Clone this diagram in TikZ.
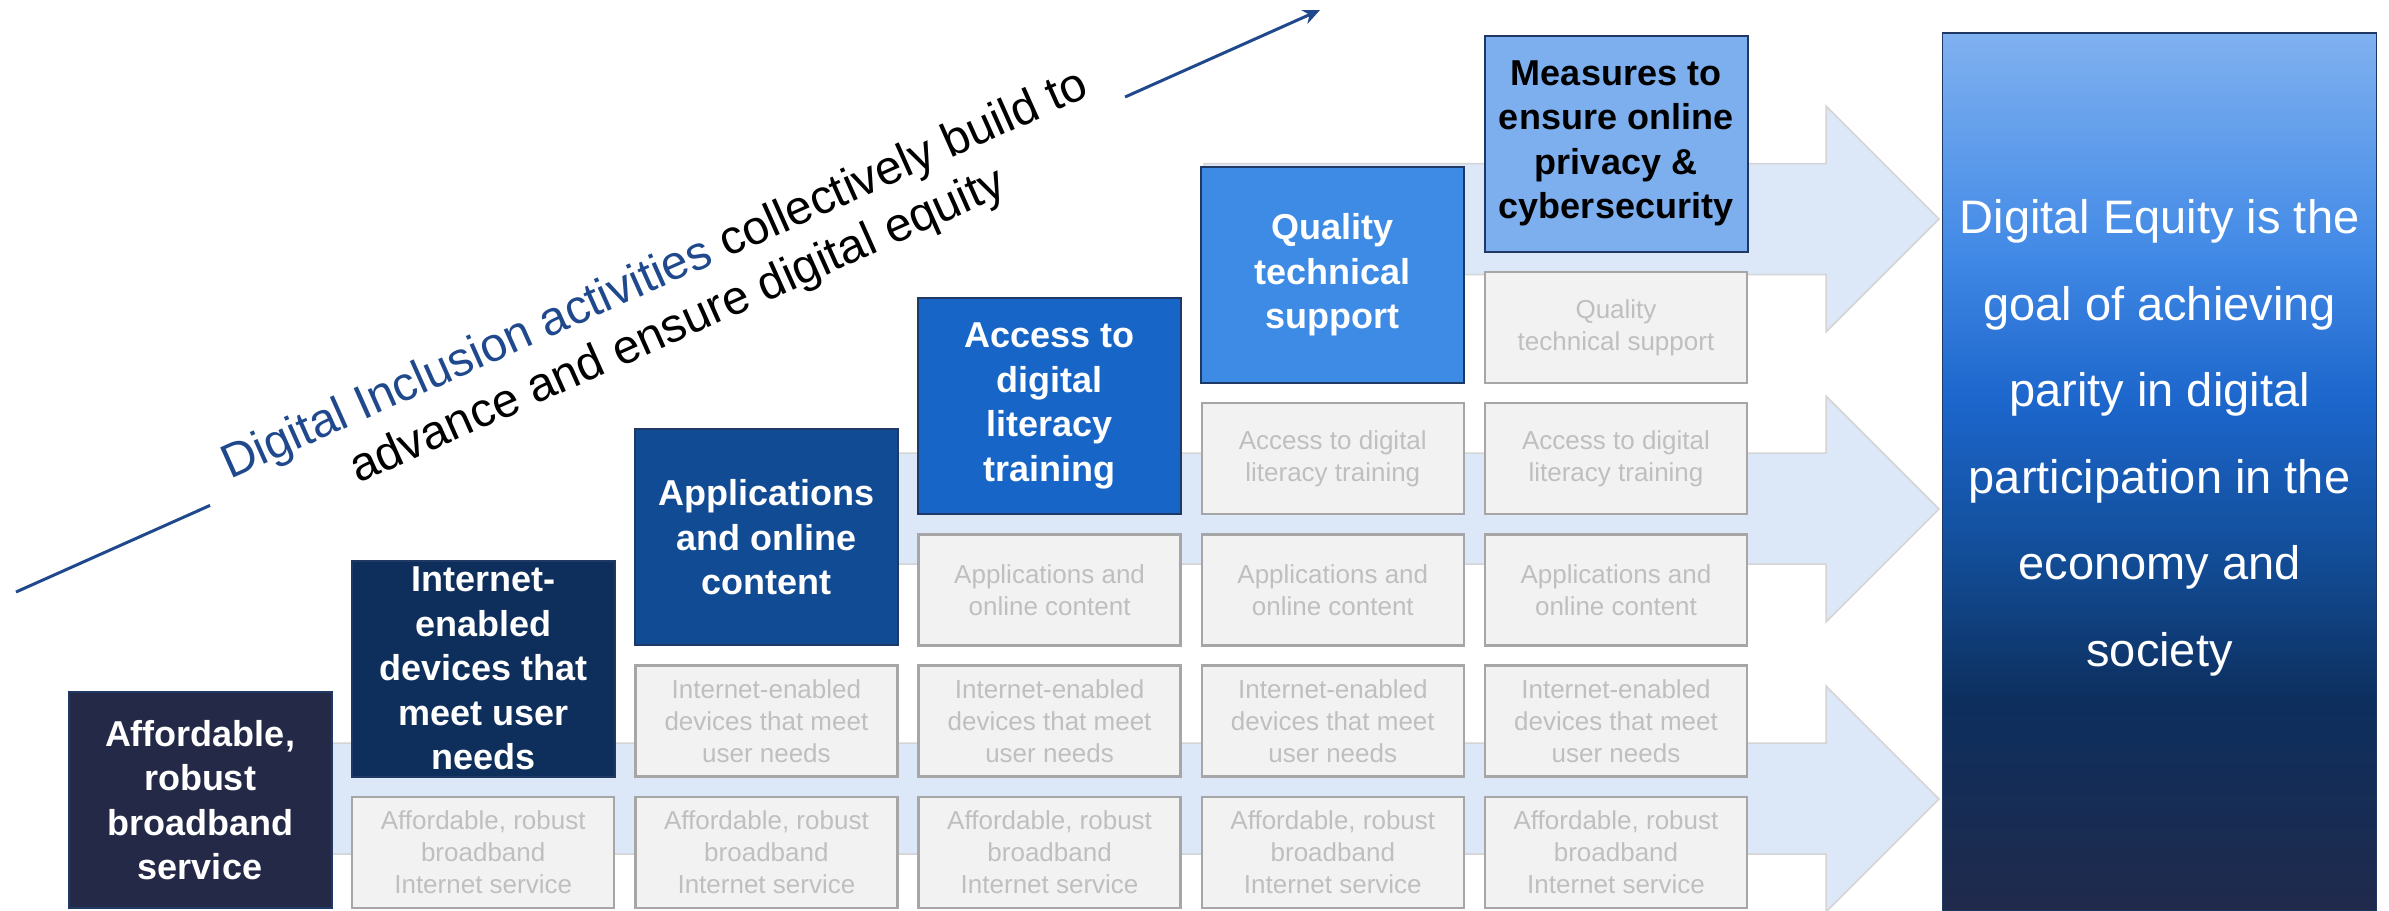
\documentclass[tikz,border=0pt]{standalone}
\usepackage[table]{xcolor}
\usepackage{fontspec}
\setmainfont{Liberation Sans}
\usepackage{tikz}
\usetikzlibrary{arrows.meta,calc}

\definecolor{navy0}{RGB}{36,41,72}
\definecolor{navy1}{RGB}{14,46,92}
\definecolor{blue2}{RGB}{17,75,148}
\definecolor{blue3}{RGB}{24,101,200}
\definecolor{blue4}{RGB}{62,139,230}
\definecolor{blue5}{RGB}{125,175,238}
\definecolor{edgeblue}{RGB}{31,56,100}
\definecolor{lineblue}{RGB}{31,73,140}
\definecolor{arrowfill}{RGB}{220,232,248}
\definecolor{arrowedge}{RGB}{212,212,212}
\definecolor{grayfill}{RGB}{242,242,242}
\definecolor{grayedge}{RGB}{166,166,166}
\definecolor{graytext}{RGB}{191,191,191}
\definecolor{g0}{RGB}{128,177,240}
\definecolor{g1}{RGB}{66,138,230}
\definecolor{g2}{RGB}{28,102,204}
\definecolor{g3}{RGB}{18,76,150}
\definecolor{g4}{RGB}{13,47,94}
\definecolor{g5}{RGB}{32,42,75}
\pgfdeclareverticalshading{goalshade}{100bp}{color(0bp)=(g5); color(25bp)=(g5); color(37bp)=(g4); color(45bp)=(g3); color(54bp)=(g2); color(62.6bp)=(g1); color(75bp)=(g0); color(100bp)=(g0)}

\begin{document}
\begin{tikzpicture}[x=1pt,y=-1pt,
	cbox/.style={draw=edgeblue, line width=2pt, minimum width=263pt, minimum height=216pt, inner sep=0pt, align=center, text=white, font=\fontsize{36}{44.5}\selectfont\bfseries},
	gbox/.style={draw=grayedge, fill=grayfill, line width=2.5pt, minimum width=262pt, minimum height=111pt, inner sep=0pt, align=center, text=graytext, font=\fontsize{26}{32}\selectfont},
	bigarrow/.style={fill=arrowfill, draw=arrowedge, line width=1.5pt}]
\useasboundingbox (0,0) rectangle (2389,910);

% arrows in the background
\filldraw[bigarrow] (1204,163.5) -- (1826,163.5) -- (1826,106) -- (1939,219) -- (1826,332) -- (1826,274.5) -- (1204,274.5) -- cycle;
\filldraw[bigarrow] (640,453) -- (1826,453) -- (1826,396) -- (1939,509) -- (1826,622) -- (1826,564) -- (640,564) -- cycle;
\filldraw[bigarrow] (80,743) -- (1826,743) -- (1826,686) -- (1939,799) -- (1826,912) -- (1826,854) -- (80,854) -- cycle;

% steps
\node [cbox, fill=navy0] (a) at (200,800) {Affordable,\\robust\\broadband\\service};
\node [cbox, fill=navy1] (b) at (483.2,668.7) {Internet-\\enabled\\devices that\\meet user\\needs};
\node [cbox, fill=blue2] (c) at (766.4,537.4) {Applications\\and online\\content};
\node [cbox, fill=blue3] (d) at (1049.6,406.1) {Access to\\digital\\literacy\\training};
\node [cbox, fill=blue4] (e) at (1332.8,274.8) {Quality\\technical\\support};
\node [cbox, fill=blue5, text=black] (f) at (1616,143.5) {Measures to\\ensure online\\privacy \&\\cybersecurity};

% what lies under each step
\node [gbox] (b0) at (483.2,852.5) {Affordable, robust\\broadband\\Internet service};
\node [gbox] (c0) at (766.4,852.5) {Affordable, robust\\broadband\\Internet service};
\node [gbox] (c1) at (766.4,721.2) {Internet-enabled\\devices that meet\\user needs};
\node [gbox] (d0) at (1049.6,852.5) {Affordable, robust\\broadband\\Internet service};
\node [gbox] (d1) at (1049.6,721.2) {Internet-enabled\\devices that meet\\user needs};
\node [gbox] (d2) at (1049.6,589.9) {Applications and\\online content};
\node [gbox] (e0) at (1332.8,852.5) {Affordable, robust\\broadband\\Internet service};
\node [gbox] (e1) at (1332.8,721.2) {Internet-enabled\\devices that meet\\user needs};
\node [gbox] (e2) at (1332.8,589.9) {Applications and\\online content};
\node [gbox] (e3) at (1332.8,458.6) {Access to digital\\literacy training};
\node [gbox] (f0) at (1616,852.5) {Affordable, robust\\broadband\\Internet service};
\node [gbox] (f1) at (1616,721.2) {Internet-enabled\\devices that meet\\user needs};
\node [gbox] (f2) at (1616,589.9) {Applications and\\online content};
\node [gbox] (f3) at (1616,458.6) {Access to digital\\literacy training};
\node [gbox] (f4) at (1616,327.3) {Quality\\technical support};

% the goal
\node [draw=edgeblue, line width=1.5pt, shading=goalshade, minimum width=434pt, minimum height=878pt] (g) at (2159.5,472) {};
\node [align=center, text=white, font=\fontsize{47}{86.5}\selectfont] (h) at (2159.5,438) {Digital Equity is the\\goal of achieving\\parity in digital\\participation in the\\economy and\\society};

% diagonal arrow with its text
\coordinate (s) at (16,592);
\coordinate (t) at (1320,10);
\draw [lineblue, line width=3pt] (s) -- ($(s)!0.1488!(t)$);
\draw [lineblue, line width=3pt, -{Stealth[length=17pt,width=15pt]}] ($(s)!0.8505!(t)$) -- (t);
\node [rotate=24.05, align=center, font=\fontsize{47.8}{56}\selectfont] (i) at (667,302) {\textcolor{lineblue}{Digital Inclusion activities} collectively build to\\advance and ensure digital equity};
\end{tikzpicture}
\end{document}
